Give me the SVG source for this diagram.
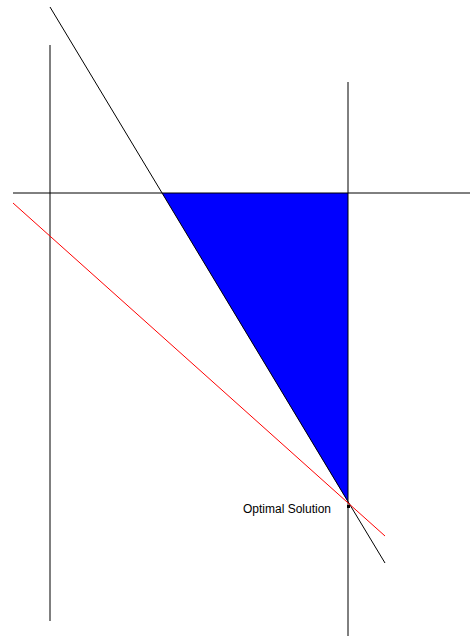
<svg xmlns="http://www.w3.org/2000/svg" width="470" height="637" viewBox="0 0 470 637">
<style>
.ax{stroke:#000;stroke-width:1;fill:none}
.red{stroke:#ff0000;stroke-width:1;fill:none}
.lbl{font-family:"Liberation Sans",Arial,sans-serif;font-size:12px;fill:#000}
</style>
<rect width="470" height="637" fill="#fff"/>
<g id="feasible-region">
<polygon points="162,193 348,193 348,502" fill="#0000ff"/>
</g>
<g id="connectors">
<line class="ax" x1="50" y1="45" x2="50" y2="621"/>
<line class="ax" x1="348" y1="82" x2="348" y2="636"/>
<line class="ax" x1="13" y1="193" x2="470" y2="193"/>
<line class="ax" x1="50" y1="7" x2="385" y2="563"/>
<line class="red" x1="13" y1="203" x2="385" y2="536"/>
</g>
<g id="optimal">
<rect x="347" y="505" width="3" height="3" fill="#000"/>
<text class="lbl" x="243" y="513">Optimal Solution</text>
</g>
</svg>
